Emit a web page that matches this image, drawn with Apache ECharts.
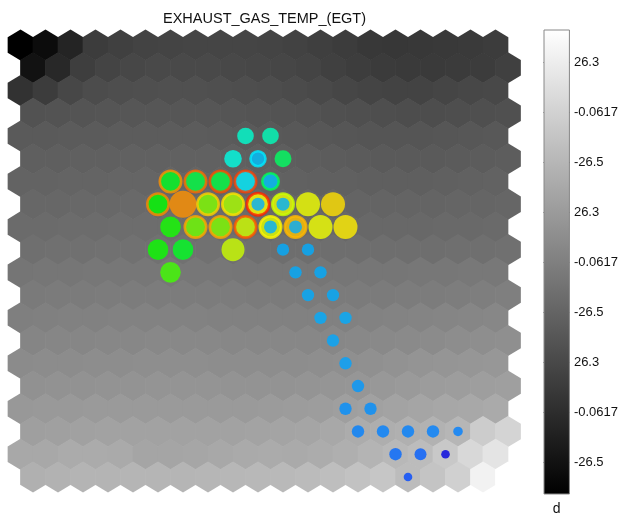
<!DOCTYPE html>
<html><head><meta charset="utf-8">
<script src="https://cdn.jsdelivr.net/npm/echarts@6/dist/echarts.min.js"></script>
<style>html,body{margin:0;padding:0;background:#fff}#c{width:621px;height:517px}</style>
</head><body><div id="c"></div>
<script>
const chartTitle = 'EXHAUST_GAS_TEMP_(EGT)';

// background U-matrix style gray levels (0 = black, 255 = white), row 0 at top
const grayRows = [
  [0,12,36,60,64,67,68,69,69,69,68,66,63,60,56,55,56,57,58,60],
  [18,40,62,68,71,73,73,73,72,71,70,68,64,61,59,58,58,59,60,64],
  [50,60,71,76,78,79,80,80,79,78,77,75,73,70,68,67,67,69,71,72],
  [82,83,84,85,86,86,86,86,85,84,83,82,80,79,78,77,77,78,79,80],
  [90,90,91,91,92,92,92,92,91,90,89,88,87,86,85,85,85,86,87,88],
  [95,95,96,96,97,97,97,97,96,95,94,93,92,91,90,90,90,91,92,93],
  [99,99,100,100,101,101,101,101,100,99,98,97,96,96,95,95,95,96,97,98],
  [103,103,104,104,105,105,105,105,104,103,102,101,100,100,100,100,100,101,101,102],
  [107,107,108,108,109,109,109,109,108,107,106,105,105,104,104,104,104,105,105,106],
  [111,112,112,113,113,113,113,113,112,111,110,110,110,110,110,110,110,111,111,112],
  [117,118,118,119,119,119,119,119,119,118,118,118,118,118,118,118,119,119,120,120],
  [122,123,123,124,124,124,124,124,124,123,123,123,123,123,123,124,124,125,126,127],
  [127,128,129,129,130,130,130,130,129,129,129,129,129,129,130,131,132,133,134,135],
  [133,134,134,135,135,136,136,136,135,135,135,135,135,136,137,138,139,141,142,143],
  [139,140,140,141,141,142,142,142,141,141,141,141,142,143,144,146,148,149,150,151],
  [145,146,146,147,147,148,148,148,147,147,147,148,149,150,152,154,156,157,158,159],
  [152,153,153,154,154,154,154,154,154,154,155,156,157,159,161,163,165,167,168,170],
  [159,160,161,162,162,162,162,162,162,163,164,165,168,172,174,176,178,182,204,212],
  [168,168,171,171,170,165,165,166,168,170,171,170,172,175,180,184,188,200,216,228],
  [176,178,180,180,181,181,181,182,183,184,185,187,190,194,198,188,196,208,242,255]
];

// hit markers (outer circles)
const hitCol   = [9,10,8,9,10,6,7,8,9,10,5,6,7,8,9,10,11,12,6,7,8,9,10,11,12,13,5,6,8,6];
const hitRow   = [4,4,5,5,5,6,6,6,6,6,7,7,7,7,7,7,7,7,8,8,8,8,8,8,8,8,9,9,9,10];
const hitValue = [0.296,0.316,0.275,0.19,0.404,0.467,0.433,0.433,0.233,0.19,0.5,0.858,0.625,0.667,0.75,0.73,0.735,0.78,0.517,0.608,0.625,0.704,0.72,0.81,0.735,0.767,0.51,0.467,0.7,0.5625];
const hitCount = [8.3,8.3,8.8,8.8,8.5,12,12,12,12,9.5,12,13.5,12,12,12.5,12,12,12,10.3,12,12,12,12,12,12,12,10.3,10.3,11.5,10.3];
const hitEdge  = [null,null,null,0.23,null,0.86,0.9,0.93,0.94,0.42,0.87,null,0.8,0.78,0.97,0.7,null,null,null,0.84,0.84,0.92,0.76,0.82,null,null,null,null,null,null];

// inner markers (blue points)
const coreCol   = [9,10,10,11,10,11,11,12,11,12,12,13,12,13,13,13,14,13,14,15,16,17,15,16,17,15];
const coreRow   = [7,7,8,8,9,9,10,10,11,11,12,12,13,14,15,16,16,17,17,17,17,17,18,18,18,19];
const coreValue = [0.17,0.17,0.17,0.17,0.17,0.17,0.17,0.17,0.17,0.17,0.17,0.17,0.165,0.16,0.15,0.14,0.14,0.125,0.125,0.125,0.125,0.125,0.1,0.09,0.0,0.07];
const coreCount = [6.5,6.5,6.5,6.5,6.2,6.2,6.2,6.2,6.2,6.2,6.2,6.2,6.2,6.2,6.2,6.2,6.2,6.2,6.2,6.2,6.2,4.8,6.2,6,4.3,4.3];

const barTickValues = [32,82,132,182,232,282,332,382,432];
const barTickLabels = ['-26.5','-0.0617','26.3','-26.5','-0.0617','26.3','-26.5','-0.0617','26.3'];
const barMax = 465;
const barName = 'd';

function hueColor(v){
  const hue = 240*(1-v);
  const val = v < 0.05 ? 0.88 + v*2.4 : 1;
  const c = val, hp = hue/60, x = c*(1-Math.abs(hp%2-1));
  let r=0,g=0,b=0;
  if (hp<1){r=c;g=x;} else if(hp<2){r=x;g=c;} else if(hp<3){g=c;b=x;}
  else if(hp<4){g=x;b=c;} else if(hp<5){r=x;b=c;} else {r=c;b=x;}
  const h = n => Math.round(n*255).toString(16).padStart(2,'0');
  return '#'+h(r)+h(g)+h(b);
}
function grayColor(g){ return 'rgb('+g+','+g+','+g+')'; }

const hexData = [];
grayRows.forEach((row, r) => row.forEach((g, c) => hexData.push([c + (r%2)*0.5, r, g])));

const hitData = hitCol.map((c,i) => {
  const r = hitRow[i];
  const e = hitEdge[i];
  const bw = e === null ? 0 : 2.6;
  return {
    value: [c + (r%2)*0.5, r],
    symbolSize: hitCount[i]*2 - bw,
    itemStyle: { color: hueColor(hitValue[i]), borderColor: e === null ? 'transparent' : hueColor(e), borderWidth: bw }
  };
});
const coreData = coreCol.map((c,i) => {
  const r = coreRow[i];
  return { value: [c + (r%2)*0.5, r], symbolSize: coreCount[i]*2, itemStyle: { color: hueColor(coreValue[i]) } };
});

const chart = echarts.init(document.getElementById('c'), null, {renderer:'canvas'});
chart.setOption({
  animation: false,
  backgroundColor: '#fff',
  title: { text: chartTitle, left: 158, top: 6,
    textStyle: { fontFamily: 'Liberation Sans', fontSize: 14.5, fontWeight: 'normal', color: '#111' } },
  grid: [
    { left: 8, top: 33.7, width: 512.5, height: 454.6 },
    { left: 543.5, top: 29.5, width: 28, height: 465 }
  ],
  xAxis: [
    { gridIndex: 0, type: 'value', min: -0.5, max: 20, show: false },
    { gridIndex: 1, type: 'category', data: [barName],
      axisLine: { show: false }, axisTick: { show: false },
      axisLabel: { margin: 8, fontSize: 14, color: '#111', fontFamily: 'Liberation Sans' } }
  ],
  yAxis: [
    { gridIndex: 0, type: 'value', min: -0.5, max: 19.5, inverse: true, show: false },
    { gridIndex: 1, type: 'value', min: 0, max: barMax, position: 'left',
      axisLine: { show: false }, splitLine: { show: false },
      axisTick: { show: true, inside: true, length: 5, customValues: barTickValues, lineStyle: { color: '#555' } },
      axisLabel: { show: false } },
    { gridIndex: 1, type: 'value', min: 0, max: barMax, position: 'right',
      axisLine: { show: false }, splitLine: { show: false },
      axisTick: { show: true, inside: true, length: 5, customValues: barTickValues, lineStyle: { color: '#555' } },
      axisLabel: { show: true, customValues: barTickValues, margin: 4, fontSize: 13, color: '#111', fontFamily: 'Liberation Sans',
        formatter: v => barTickLabels[barTickValues.indexOf(Math.round(v))] } }
  ],
  series: [
    { type: 'custom', xAxisIndex: 0, yAxisIndex: 0, data: hexData, silent: true,
      renderItem: (params, api) => {
        const p = api.coord([api.value(0), api.value(1)]);
        const s = api.size([1, 1]);
        const w = s[0]/2 + 0.35, h = s[1]*2/3 + 0.4;
        const col = grayColor(api.value(2));
        return { type: 'polygon',
          shape: { points: [[p[0], p[1]-h],[p[0]+w, p[1]-h/2],[p[0]+w, p[1]+h/2],[p[0], p[1]+h],[p[0]-w, p[1]+h/2],[p[0]-w, p[1]-h/2]] },
          style: { fill: col, lineWidth: 0 } };
      } },
    { type: 'scatter', xAxisIndex: 0, yAxisIndex: 0, symbol: 'circle', data: hitData, silent: true },
    { type: 'scatter', xAxisIndex: 0, yAxisIndex: 0, symbol: 'circle', data: coreData, silent: true },
    { type: 'bar', xAxisIndex: 1, yAxisIndex: 1, data: [barMax], barWidth: '100%', silent: true, z: 1,
      itemStyle: { color: new echarts.graphic.LinearGradient(0,0,0,1,[{offset:0,color:'#ffffff'},{offset:1,color:'#000000'}]),
        borderColor: '#888', borderWidth: 1 } }
  ]
});
</script></body></html>
